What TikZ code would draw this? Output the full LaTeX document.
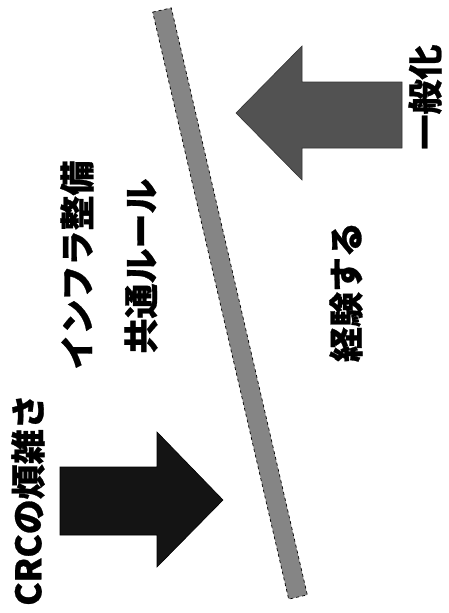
\documentclass[tikz,border=0pt]{standalone}
\usepackage{fontspec}
\newfontfamily\jp{Noto Sans CJK JP}[BoldFeatures={FakeBold=0.8}]
\begin{document}
\begin{tikzpicture}[x=1pt,y=-1pt,
  lbl/.style={rotate=90,inner sep=0pt,font=\jp\bfseries\fontsize{35}{35}\selectfont},
  darkarrow/.style={fill=black!92,draw=black,line width=0.6pt},
  greyarrow/.style={fill=black!68,draw=black!80,line width=0.6pt},
  barstyle/.style={fill=black!48,draw=black,line width=0.7pt,dashed}]
\useasboundingbox (0,0) rectangle (448,613);
% dark arrow (pointing right)
\draw[darkarrow] (60,467) -- (157,467) -- (157,432) -- (223,500) -- (157,567) -- (157,535) -- (60,535) -- cycle;
% grey arrow (pointing left)
\draw[greyarrow] (236,113) -- (302,46) -- (302,82) -- (402,82) -- (402,148) -- (302,148) -- (302,180) -- cycle;
% diagonal bar
\draw[barstyle] (152.7,12.1) -- (171.3,7.9) -- (307.3,594.9) -- (288.7,599.1) -- cycle;
% labels
\node[lbl] (crc) at (28,500) {CRCの煩雑さ};
\node[lbl] (infra) at (77,265) {インフラ整備};
\node[lbl] (rule) at (141,266) {共通ルール};
\node[lbl] (keiken) at (346,292) {経験する};
\node[lbl] (ippan) at (425,97) {一般化};
\end{tikzpicture}
\end{document}
